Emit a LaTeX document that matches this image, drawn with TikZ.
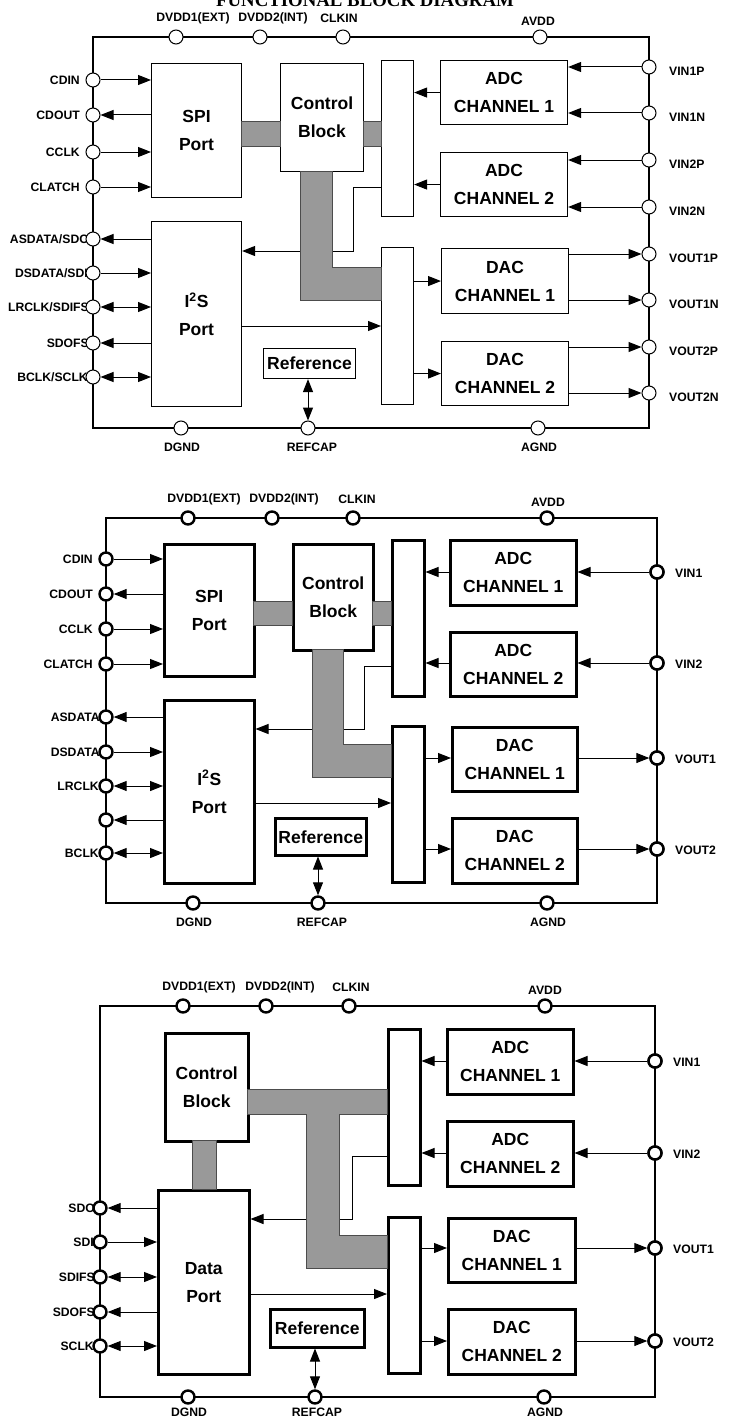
\documentclass[tikz,border=0pt]{standalone}
\usepackage{fontspec}
\setmainfont{Liberation Sans}
\newfontfamily\titlefont{Liberation Serif}
\usetikzlibrary{arrows.meta}
\newcommand{\mkblk}[7]{%
  \pgfmathsetmacro\bw{#5-#3}\pgfmathsetmacro\bh{#6-#4}%
  \node[#1, minimum width=\bw pt, minimum height=\bh pt, anchor=north west] (#2) at (#3,#4) {#7};}
\begin{document}
\begin{tikzpicture}[x=1pt,y=-1pt,
  >={Triangle[length=13pt,width=10pt]},
  lbl/.style={font=\bfseries\fontsize{12.2}{14}\selectfont, inner sep=0pt},
  btxt/.style={font=\bfseries\fontsize{17.5}{28}\selectfont},
  blkA/.style={draw, line width=1.1pt, fill=white, align=center, inner sep=1pt, btxt},
  blkB/.style={blkA, line width=2.5pt},
  pinA/.style={circle, draw, fill=white, line width=1pt, minimum size=14pt, inner sep=0pt},
  pinB/.style={pinA, line width=2.4pt, minimum size=13pt},
  sig/.style={line width=1pt},
  bus/.style={fill=gray!80!white, draw=black!70, line width=0.5pt},
  frameA/.style={line width=1.1pt},
  frameB/.style={line width=2.5pt}]
\useasboundingbox (0,0) rectangle (728,1418);
\fill[white] (0,0) rectangle (728,1418);
\begin{scope}
\clip (0,0) rectangle (728,1418);
\node[font=\titlefont\bfseries\fontsize{18.8}{20}\selectfont, anchor=base, inner sep=0pt] (title) at (365,7) {FUNCTIONAL BLOCK DIAGRAM};
\end{scope}

%%%%%%%%%%%%%%%% DIAGRAM 1 %%%%%%%%%%%%%%%%
\draw[frameA] (93,37) rectangle (649,428);
\coordinate (cA1) at (353,187);
\coordinate (cA2) at (353,251);
\coordinate (cA3) at (0,326);
\mkblk{blkA}{spiA}{151}{63}{241}{197}{SPI\\Port}
\mkblk{blkA}{ctlA}{280}{63}{363}{171}{Control\\Block}
\mkblk{blkA}{mxA1}{381}{60}{413}{216}{}
\mkblk{blkA}{adcA1}{440}{60}{567}{124}{ADC\\CHANNEL 1}
\mkblk{blkA}{adcA2}{440}{152}{567}{216}{ADC\\CHANNEL 2}
\mkblk{blkA}{i2sA}{151}{221}{241}{406}{I\textsuperscript{2}S\\Port}
\mkblk{blkA}{refA}{263}{348}{355}{378}{Reference}
\mkblk{blkA}{mxA2}{381}{247}{413}{404}{}
\mkblk{blkA}{dacA1}{441}{248}{568}{313}{DAC\\CHANNEL 1}
\mkblk{blkA}{dacA2}{441}{341}{568}{405}{DAC\\CHANNEL 2}
\draw[sig,->] (mxA1.west |- cA1) -- (cA1) -- (cA2) -- (i2sA.east |- cA2);
\draw[bus] (241,121) rectangle (280,146);
\draw[bus] (363,121) rectangle (381,146);
\draw[bus] (300,171) -- (332,171) -- (332,267) -- (381,267) -- (381,300) -- (300,300) -- cycle;
\draw[sig,->] (adcA1.west) -- (mxA1.east |- adcA1.west);
\draw[sig,->] (adcA2.west) -- (mxA1.east |- adcA2.west);
\draw[sig,->] (mxA2.east |- dacA1.west) -- (dacA1.west);
\draw[sig,->] (mxA2.east |- dacA2.west) -- (dacA2.west);
\draw[sig,->] (i2sA.east |- cA3) -- (mxA2.west |- cA3);
% top pins
\node[lbl] (lA1) at (193,18) {DVDD1(EXT)};
\node[lbl] (lA2) at (273,18) {DVDD2(INT)};
\node[lbl] (lA3) at (339,18) {CLKIN};
\node[lbl] (lA4) at (538,21) {AVDD};
\node[pinA] (tA1) at (176,37) {};
\node[pinA] (tA2) at (260,37) {};
\node[pinA] (tA3) at (343,37) {};
\node[pinA] (tA4) at (540,37) {};
% bottom pins
\node[lbl] (lA5) at (182,447) {DGND};
\node[lbl] (lA6) at (312,447) {REFCAP};
\node[lbl] (lA7) at (539,447) {AGND};
\node[pinA] (bA1) at (181,428) {};
\node[pinA] (bA2) at (308,428) {};
\node[pinA] (bA3) at (538,428) {};
\draw[sig,<->] (bA2 |- refA.south) -- (bA2);
% left pins
\foreach \n/\y/\t/\e in {1/80/CDIN/80,2/115/CDOUT/80,3/152/CCLK/80,4/187/CLATCH/80,
  5/239/ASDATA\slash SDO/89,6/273/DSDATA\slash SDI/88,7/307/LRCLK\slash SDIFS/89,8/343/SDOFS/89,9/377/BCLK\slash SCLK/88}
  {\node[lbl, anchor=east] (llA\n) at (\e,\y) {\t};
   \node[pinA] (lpA\n) at (93,\y) {};}
\draw[sig,->] (lpA1) -- (spiA.west |- lpA1);
\draw[sig,<-] (lpA2) -- (spiA.west |- lpA2);
\draw[sig,->] (lpA3) -- (spiA.west |- lpA3);
\draw[sig,->] (lpA4) -- (spiA.west |- lpA4);
\draw[sig,<-] (lpA5) -- (i2sA.west |- lpA5);
\draw[sig,->] (lpA6) -- (i2sA.west |- lpA6);
\draw[sig,<->] (lpA7) -- (i2sA.west |- lpA7);
\draw[sig,<-] (lpA8) -- (i2sA.west |- lpA8);
\draw[sig,<->] (lpA9) -- (i2sA.west |- lpA9);
% right pins
\foreach \n/\y/\t in {1/67/VIN1P,2/113/VIN1N,3/160/VIN2P,4/207/VIN2N,5/254/VOUT1P,6/300/VOUT1N,7/347/VOUT2P,8/393/VOUT2N}
  {\node[lbl, anchor=west] (rlA\n) at (669,\y+4) {\t};
   \node[pinA] (rpA\n) at (649,\y) {};}
\draw[sig,->] (rpA1) -- (adcA1.east |- rpA1);
\draw[sig,->] (rpA2) -- (adcA1.east |- rpA2);
\draw[sig,->] (rpA3) -- (adcA2.east |- rpA3);
\draw[sig,->] (rpA4) -- (adcA2.east |- rpA4);
\draw[sig,->] (dacA1.east |- rpA5) -- (rpA5);
\draw[sig,->] (dacA1.east |- rpA6) -- (rpA6);
\draw[sig,->] (dacA2.east |- rpA7) -- (rpA7);
\draw[sig,->] (dacA2.east |- rpA8) -- (rpA8);

%%%%%%%%%%%%%%%% DIAGRAM 2 %%%%%%%%%%%%%%%%
\draw[frameB] (106,518) rectangle (657,903);
\coordinate (cB1) at (364,666);
\coordinate (cB2) at (364,729);
\coordinate (cB3) at (0,803);
\mkblk{blkB}{spiB}{163}{543}{253}{675}{SPI\\Port}
\mkblk{blkB}{ctlB}{292}{543}{372}{649}{Control\\Block}
\mkblk{blkB}{mxB1}{391}{539}{423}{695}{}
\mkblk{blkB}{adcB1}{449}{539}{575}{604}{ADC\\CHANNEL 1}
\mkblk{blkB}{adcB2}{449}{631}{575}{695}{ADC\\CHANNEL 2}
\mkblk{blkB}{i2sB}{163}{699}{253}{882}{I\textsuperscript{2}S\\Port}
\mkblk{blkB}{refB}{274}{817}{365}{854}{Reference}
\mkblk{blkB}{mxB2}{391}{725}{423}{881}{}
\mkblk{blkB}{dacB1}{451}{726}{576}{790}{DAC\\CHANNEL 1}
\mkblk{blkB}{dacB2}{451}{817}{576}{882}{DAC\\CHANNEL 2}
\draw[sig,->] (mxB1.west |- cB1) -- (cB1) -- (cB2) -- (i2sB.east |- cB2);
\draw[bus] (253,601) rectangle (292,625);
\draw[bus] (372,601) rectangle (391,625);
\draw[bus] (312,649) -- (343,649) -- (343,744) -- (391,744) -- (391,777) -- (312,777) -- cycle;
\node[pinB] (rpB1) at (657,572) {};
\node[pinB] (rpB2) at (657,663) {};
\node[pinB] (rpB3) at (657,758) {};
\node[pinB] (rpB4) at (657,849) {};
\draw[sig,->] (adcB1.west |- rpB1) -- (mxB1.east |- rpB1);
\draw[sig,->] (adcB2.west |- rpB2) -- (mxB1.east |- rpB2);
\draw[sig,->] (mxB2.east |- rpB3) -- (dacB1.west |- rpB3);
\draw[sig,->] (mxB2.east |- rpB4) -- (dacB2.west |- rpB4);
\draw[sig,->] (i2sB.east |- cB3) -- (mxB2.west |- cB3);
\node[lbl] (lB1) at (204,499) {DVDD1(EXT)};
\node[lbl] (lB2) at (284,499) {DVDD2(INT)};
\node[lbl] (lB3) at (357,499) {CLKIN};
\node[lbl] (lB4) at (548,502) {AVDD};
\node[pinB] (tB1) at (188,518) {};
\node[pinB] (tB2) at (272,518) {};
\node[pinB] (tB3) at (353,518) {};
\node[pinB] (tB4) at (547,518) {};
\node[lbl] (lB5) at (194,922) {DGND};
\node[lbl] (lB6) at (322,922) {REFCAP};
\node[lbl] (lB7) at (548,922) {AGND};
\node[pinB] (bB1) at (193,903) {};
\node[pinB] (bB2) at (318,903) {};
\node[pinB] (bB3) at (547,903) {};
\draw[sig,<->] (bB2 |- refB.south) -- (bB2);
\foreach \n/\y/\t/\e in {1/559/CDIN/93,2/594/CDOUT/93,3/629/CCLK/93,4/664/CLATCH/93,
  5/717/ASDATA/100,6/752/DSDATA/100,7/786/LRCLK/99,8/820//99,9/853/BCLK/99}
  {\node[lbl, anchor=east] (llB\n) at (\e,\y) {\t};
   \node[pinB] (lpB\n) at (106,\y) {};}
\draw[sig,->] (lpB1) -- (spiB.west |- lpB1);
\draw[sig,<-] (lpB2) -- (spiB.west |- lpB2);
\draw[sig,->] (lpB3) -- (spiB.west |- lpB3);
\draw[sig,->] (lpB4) -- (spiB.west |- lpB4);
\draw[sig,<-] (lpB5) -- (i2sB.west |- lpB5);
\draw[sig,->] (lpB6) -- (i2sB.west |- lpB6);
\draw[sig,<->] (lpB7) -- (i2sB.west |- lpB7);
\draw[sig,<-] (lpB8) -- (i2sB.west |- lpB8);
\draw[sig,<->] (lpB9) -- (i2sB.west |- lpB9);
\foreach \n/\y/\t in {1/572/VIN1,2/663/VIN2,3/758/VOUT1,4/849/VOUT2}
  {\node[lbl, anchor=west] (rlB\n) at (675,\y+1) {\t};}
\draw[sig,->] (rpB1) -- (adcB1.east |- rpB1);
\draw[sig,->] (rpB2) -- (adcB2.east |- rpB2);
\draw[sig,->] (dacB1.east |- rpB3) -- (rpB3);
\draw[sig,->] (dacB2.east |- rpB4) -- (rpB4);
\node[pinB] at (rpB1) {};
\node[pinB] at (rpB2) {};
\node[pinB] at (rpB3) {};
\node[pinB] at (rpB4) {};

%%%%%%%%%%%%%%%% DIAGRAM 3 %%%%%%%%%%%%%%%%
\draw[frameB] (100,1006) rectangle (655,1397);
\coordinate (cC1) at (352,1156);
\coordinate (cC2) at (352,1219);
\coordinate (cC3) at (0,1294);
\mkblk{blkB}{ctlC}{164}{1032}{247}{1140}{Control\\Block}
\mkblk{blkB}{dpC}{157}{1189}{248}{1373}{Data\\Port}
\mkblk{blkB}{refC}{269}{1308}{363}{1346}{Reference}
\mkblk{blkB}{mxC1}{387}{1028}{419}{1184}{}
\mkblk{blkB}{adcC1}{446}{1028}{572}{1093}{ADC\\CHANNEL 1}
\mkblk{blkB}{adcC2}{446}{1120}{572}{1185}{ADC\\CHANNEL 2}
\mkblk{blkB}{mxC2}{387}{1216}{419}{1372}{}
\mkblk{blkB}{dacC1}{447}{1217}{574}{1281}{DAC\\CHANNEL 1}
\mkblk{blkB}{dacC2}{447}{1308}{574}{1373}{DAC\\CHANNEL 2}
\draw[sig,->] (mxC1.west |- cC1) -- (cC1) -- (cC2) -- (dpC.east |- cC2);
\draw[bus] (247,1089) -- (387,1089) -- (387,1114) -- (339,1114) -- (339,1235) -- (387,1235)
  -- (387,1268) -- (306,1268) -- (306,1114) -- (247,1114) -- cycle;
\draw[bus] (192,1140) rectangle (216,1189);
\node[pinB] (rpC1) at (655,1061) {};
\node[pinB] (rpC2) at (655,1153) {};
\node[pinB] (rpC3) at (655,1248) {};
\node[pinB] (rpC4) at (655,1341) {};
\draw[sig,->] (adcC1.west |- rpC1) -- (mxC1.east |- rpC1);
\draw[sig,->] (adcC2.west |- rpC2) -- (mxC1.east |- rpC2);
\draw[sig,->] (mxC2.east |- rpC3) -- (dacC1.west |- rpC3);
\draw[sig,->] (mxC2.east |- rpC4) -- (dacC2.west |- rpC4);
\draw[sig,->] (dpC.east |- cC3) -- (mxC2.west |- cC3);
\node[lbl] (lC1) at (199,987) {DVDD1(EXT)};
\node[lbl] (lC2) at (280,987) {DVDD2(INT)};
\node[lbl] (lC3) at (351,987) {CLKIN};
\node[lbl] (lC4) at (545,990) {AVDD};
\node[pinB] (tC1) at (183,1006) {};
\node[pinB] (tC2) at (266,1006) {};
\node[pinB] (tC3) at (349,1006) {};
\node[pinB] (tC4) at (545,1006) {};
\node[lbl] (lC5) at (189,1412) {DGND};
\node[lbl] (lC6) at (317,1412) {REFCAP};
\node[lbl] (lC7) at (545,1412) {AGND};
\node[pinB] (bC1) at (188,1397) {};
\node[pinB] (bC2) at (315,1397) {};
\node[pinB] (bC3) at (544,1397) {};
\draw[sig,<->] (bC2 |- refC.south) -- (bC2);
\foreach \n/\y/\t/\e in {1/1208/SDO/95,2/1242/SDI/94,3/1277/SDIFS/95,4/1312/SDOFS/95,5/1346/SCLK/94}
  {\node[lbl, anchor=east] (llC\n) at (\e,\y) {\t};
   \node[pinB] (lpC\n) at (100,\y) {};}
\draw[sig,<-] (lpC1) -- (dpC.west |- lpC1);
\draw[sig,->] (lpC2) -- (dpC.west |- lpC2);
\draw[sig,<->] (lpC3) -- (dpC.west |- lpC3);
\draw[sig,<-] (lpC4) -- (dpC.west |- lpC4);
\draw[sig,<->] (lpC5) -- (dpC.west |- lpC5);
\foreach \n/\y/\t in {1/1061/VIN1,2/1153/VIN2,3/1248/VOUT1,4/1341/VOUT2}
  {\node[lbl, anchor=west] (rlC\n) at (673,\y+1) {\t};}
\draw[sig,->] (rpC1) -- (adcC1.east |- rpC1);
\draw[sig,->] (rpC2) -- (adcC2.east |- rpC2);
\draw[sig,->] (dacC1.east |- rpC3) -- (rpC3);
\draw[sig,->] (dacC2.east |- rpC4) -- (rpC4);
\node[pinB] at (rpC1) {};
\node[pinB] at (rpC2) {};
\node[pinB] at (rpC3) {};
\node[pinB] at (rpC4) {};
\end{tikzpicture}
\end{document}
